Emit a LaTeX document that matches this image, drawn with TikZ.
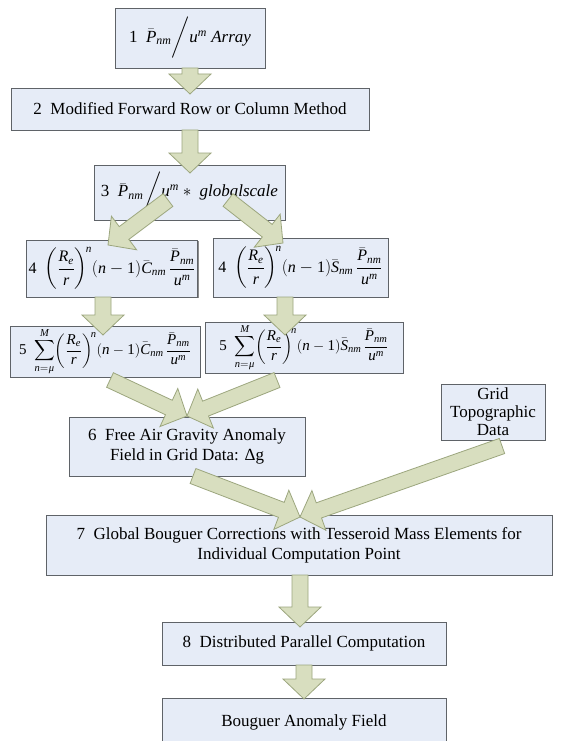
\documentclass[tikz,border=0pt]{standalone}
\usepackage{amsmath}
\usepackage{mathspec}
\setmainfont{Liberation Serif}
\setmathsfont(Digits,Latin,Greek){Liberation Serif}
\usetikzlibrary{calc,shadows}
\definecolor{boxfill}{HTML}{E6ECF7}
\definecolor{boxline}{HTML}{5F6368}
\definecolor{arrfill}{HTML}{D8DEBF}
\definecolor{arrline}{HTML}{9CA67E}
\newcommand{\bw}{8pt}
\newcommand{\bH}{21pt}
\newcommand{\bh}{20pt}
\newcommand{\blockarrow}[2]{%
  \draw[barrow] let \p1=(#1), \p2=(#2), \n1={atan2(\y2-\y1,\x2-\x1)}, \n2={veclen(\x2-\x1,\y2-\y1)} in
  ($(\p1)+({\n1+90}:\bw)$)
  -- ($(\p1)+(\n1:{\n2*1pt-\bh})+({\n1+90}:\bw)$)
  -- ($(\p1)+(\n1:{\n2*1pt-\bh})+({\n1+90}:\bH)$)
  -- (\p2)
  -- ($(\p1)+(\n1:{\n2*1pt-\bh})+({\n1-90}:\bH)$)
  -- ($(\p1)+(\n1:{\n2*1pt-\bh})+({\n1-90}:\bw)$)
  -- ($(\p1)+({\n1-90}:\bw)$) -- cycle;}
\begin{document}
\begin{tikzpicture}[x=1pt,y=-1pt,
  box/.style={draw=boxline, line width=0.9pt, fill=boxfill, inner sep=2pt, align=center,
    font=\fontsize{17}{20}\selectfont,
    drop shadow={shadow xshift=1.2pt, shadow yshift=-1.2pt, fill=black!45, opacity=1}},
  mbox/.style={box, font=\fontsize{16}{19}\selectfont},
  sbox/.style={box, font=\fontsize{15}{18}\selectfont, inner sep=1pt},
  barrow/.style={draw=arrline, line width=0.8pt, fill=arrfill, line join=miter}]
\useasboundingbox (0,0) rectangle (561,741);
\fill[white] (0,0) rectangle (561,741);

\node[box, minimum width=150pt, minimum height=60pt] (n1) at (190,38)
  {1\enspace $\bar{P}_{nm}\bigg/u^m$ \textit{Array}};
\node[box, minimum width=358pt, minimum height=42pt] (n2) at (190,109)
  {2\enspace Modified Forward Row or Column Method};
\node[box, minimum width=191pt, minimum height=55pt] (n3) at (189.5,192.5)
  {3\enspace $\bar{P}_{nm}\bigg/u^m \ast{}$ \textit{globalscale}};
\node[mbox, minimum width=170pt, minimum height=57pt] (n4L) at (112,268.5)
  {4\enspace $\displaystyle\left(\frac{R_e}{r}\right)^{\!n}\!(n-1)\bar{C}_{nm}\,\frac{\bar{P}_{nm}}{u^m}$};
\node[mbox, minimum width=175pt, minimum height=59pt] (n4R) at (300.5,267.5)
  {4\enspace $\displaystyle\left(\frac{R_e}{r}\right)^{\!n}\!(n-1)\bar{S}_{nm}\,\frac{\bar{P}_{nm}}{u^m}$};
\node[sbox, minimum width=190pt, minimum height=51pt] (n5L) at (105,351.5)
  {5\enspace $\displaystyle\sum_{n=\mu}^{M}\!\left(\frac{R_e}{r}\right)^{\!n}\!(n-1)\bar{C}_{nm}\,\frac{\bar{P}_{nm}}{u^m}$};
\node[sbox, minimum width=198pt, minimum height=51pt] (n5R) at (304,347.5)
  {5\enspace $\displaystyle\sum_{n=\mu}^{M}\!\left(\frac{R_e}{r}\right)^{\!n}\!(n-1)\bar{S}_{nm}\,\frac{\bar{P}_{nm}}{u^m}$};
\node[box, minimum width=236pt, minimum height=59pt] (n6) at (187,446.5)
  {6\enspace Free Air Gravity Anomaly\\Field in Grid Data: Δg};
\node[box, minimum width=104pt, minimum height=56pt, font=\fontsize{17}{18}\selectfont] (grid) at (493,412)
  {Grid\\Topographic\\Data};
\node[box, minimum width=506pt, minimum height=60pt] (n7) at (299,545)
  {7\enspace Global Bouguer Corrections with Tesseroid Mass Elements for\\Individual Computation Point};
\node[box, minimum width=284pt, minimum height=43pt] (n8) at (304,643.5)
  {8\enspace Distributed Parallel Computation};
\node[box, minimum width=284pt, minimum height=48pt] (n9) at (304,722)
  {Bouguer Anomaly Field};

\coordinate (a1s) at (190,68);   \coordinate (a1t) at (190,94);
\coordinate (a2s) at (190,130);  \coordinate (a2t) at (190,173);
\coordinate (a3s) at (168,200);  \coordinate (a3t) at (108,245);
\coordinate (a4s) at (228,200);  \coordinate (a4t) at (283,243);
\coordinate (a5s) at (103,297);  \coordinate (a5t) at (103,335);
\coordinate (a6s) at (285,297);  \coordinate (a6t) at (285,335);
\coordinate (a7s) at (110,380);  \coordinate (a8s) at (277,380);
\coordinate (m6) at (187,416);
\coordinate (a9s) at (193,476);  \coordinate (a10s) at (502,446);
\coordinate (m7) at (300,517);
\coordinate (a11s) at (300,575); \coordinate (a11t) at (300,627);
\coordinate (a12s) at (304,665); \coordinate (a12t) at (304,699);

\blockarrow{a1s}{a1t}
\blockarrow{a2s}{a2t}
\blockarrow{a3s}{a3t}
\blockarrow{a4s}{a4t}
\blockarrow{a5s}{a5t}
\blockarrow{a6s}{a6t}
\blockarrow{a7s}{m6}
\blockarrow{a8s}{m6}
\blockarrow{a9s}{m7}
\blockarrow{a10s}{m7}
\blockarrow{a11s}{a11t}
\blockarrow{a12s}{a12t}
\end{tikzpicture}
\end{document}
